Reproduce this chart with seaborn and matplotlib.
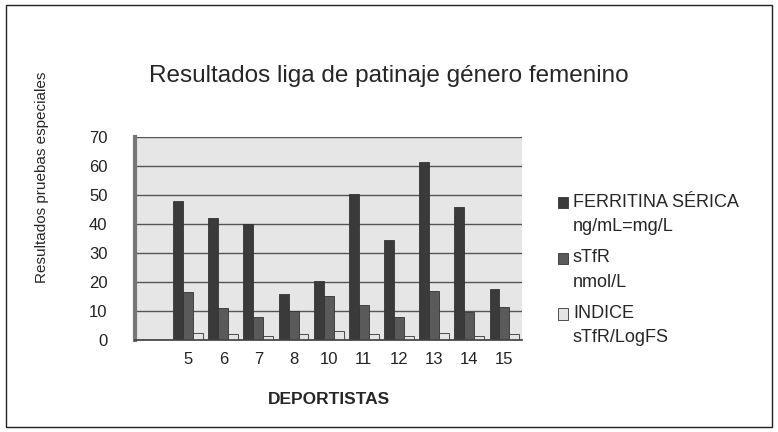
#!/usr/bin/env python3
import pandas as pd
import numpy as np
import matplotlib
matplotlib.use('Agg')
import matplotlib.pyplot as plt
from matplotlib.patches import Rectangle
from matplotlib.legend_handler import HandlerPatch
import seaborn as sns

# Datos
deportistas = ['5', '6', '7', '8', '10', '11', '12', '13', '14', '15']
ferritina = [48, 42, 40, 16, 20.5, 50.5, 34.5, 61.5, 46, 17.5]
stfr = [16.5, 11, 8, 10, 15, 12, 8, 17, 9.5, 11.5]
indice = [2.5, 2, 1.5, 2, 3, 2, 1.5, 2.5, 1.5, 2]
series = ['FERRITINA SÉRICA\nng/mL=mg/L', 'sTfR\nnmol/L', 'INDICE\nsTfR/LogFS']
colores = ['#3a3a3a', '#5a5a5a', '#e4e4e4']

df = pd.DataFrame({
    'Deportista': deportistas * 3,
    'Serie': [series[0]] * 10 + [series[1]] * 10 + [series[2]] * 10,
    'Valor': ferritina + stfr + indice,
})


# cuadrito de la leyenda alineado con la primera linea del texto
class HandlerArriba(HandlerPatch):
    def create_artists(self, legend, orig_handle, xdescent, ydescent,
                       width, height, fontsize, trans):
        p = Rectangle((-xdescent, -ydescent + 8.5), width, height)
        self.update_prop(p, orig_handle, legend)
        p.set_transform(trans)
        return [p]


sns.set_theme(style='white')
plt.rcParams['font.family'] = ['Liberation Sans', 'DejaVu Sans']

fig = plt.figure(figsize=(7.78, 4.32), dpi=100)
fig.patch.set_facecolor('white')
fig.patches.append(Rectangle((0.008, 0.012), 0.984, 0.976, transform=fig.transFigure,
                             fill=False, edgecolor='#222222', linewidth=1.0))

ax = fig.add_axes([0.174, 0.213, 0.497, 0.470])
ax.set_facecolor('#e6e6e6')
sns.barplot(data=df, x='Deportista', y='Valor', hue='Serie', order=deportistas,
            hue_order=series, palette=colores, width=0.85, edgecolor='#333333',
            linewidth=0.6, ax=ax, legend=True)

ax.set_xlim(-1.5, 9.5)
ax.set_ylim(0, 70)
ax.set_yticks(range(0, 71, 10))
ax.yaxis.grid(True, color='#555555', linewidth=1.0)
ax.set_axisbelow(True)
for s in ['top', 'right']:
    ax.spines[s].set_visible(False)
ax.spines['left'].set_color('#777777')
ax.spines['left'].set_linewidth(3)
ax.spines['bottom'].set_color('#444444')
ax.tick_params(axis='y', labelsize=12, colors='#222222', length=0, pad=20)
ax.tick_params(axis='x', labelsize=12, colors='#222222', length=0, pad=9)
ax.set_ylabel('')
ax.set_xlabel('DEPORTISTAS', fontsize=12.5, fontweight='bold', labelpad=18)

handles, labels = ax.get_legend_handles_labels()
leg = ax.legend(handles, labels, loc='upper left', bbox_to_anchor=(1.05, 0.80),
                frameon=False, fontsize=13, handlelength=0.6, handleheight=0.6,
                handletextpad=0.25, labelspacing=0.8,
                handler_map={Rectangle: HandlerArriba()})
for t in leg.get_texts():
    t.set_linespacing(1.55)

fig.text(0.5, 0.825, 'Resultados liga de patinaje género femenino', ha='center',
         va='center', fontsize=17.5)
fig.text(0.054, 0.59, 'Resultados pruebas especiales', rotation=90, ha='center',
         va='center', fontsize=11)

fig.savefig('out.png', dpi=100)
